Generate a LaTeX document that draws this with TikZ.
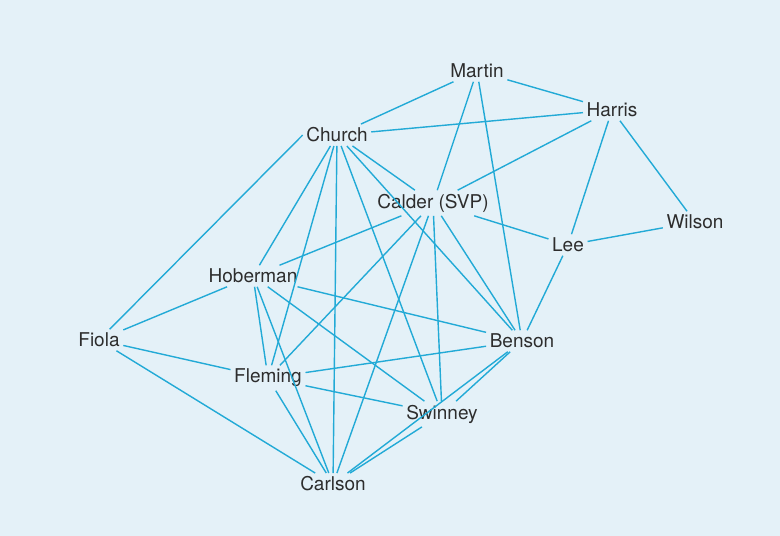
\documentclass[tikz,border=0pt]{standalone}
\usepackage{fontspec}
\setmainfont{TeX Gyre Heros}
\definecolor{bgblue}{RGB}{228,241,248}
\definecolor{linkblue}{RGB}{34,170,214}
\definecolor{txtgrey}{RGB}{45,45,45}
\begin{document}
\begin{tikzpicture}[x=1pt,y=-1pt,
  person/.style={font=\fontsize{19}{21}\selectfont, text=txtgrey, inner sep=3.5pt},
  link/.style={draw=linkblue, line width=1.4pt}]
\fill[bgblue] (0,0) rectangle (780,536);
\useasboundingbox (0,0) rectangle (780,536);
\node[person] (martin) at (477,71) {Martin};
\node[person] (harris) at (612,110) {Harris};
\node[person] (church) at (337,135) {Church};
\node[person] (calder) at (433,203) {Calder (SVP)};
\node[person] (wilson) at (695,222) {Wilson};
\node[person] (lee) at (568,245) {Lee};
\node[person] (hoberman) at (253,276) {Hoberman};
\node[person] (fiola) at (99,340) {Fiola};
\node[person] (benson) at (522,341) {Benson};
\node[person] (fleming) at (268,378) {Fleming};
\node[person] (swinney) at (442,414) {Swinney};
\node[person] (carlson) at (333,484) {Carlson};
\foreach \a/\b in {martin/church, martin/harris, martin/calder, martin/benson,
  harris/church, harris/calder, harris/lee, harris/wilson,
  church/calder, church/hoberman, church/carlson, church/fleming,
  church/swinney, church/benson,
  calder/lee, calder/hoberman, calder/fleming, calder/carlson, calder/swinney, calder/benson,
  lee/wilson, lee/benson,
  hoberman/fiola, hoberman/fleming, hoberman/swinney, hoberman/benson, hoberman/carlson,
  fiola/fleming, fiola/carlson,
  fleming/benson, fleming/swinney, fleming/carlson,
  benson/carlson, benson/swinney, swinney/carlson}
  \draw[link] (\a) -- (\b);
\draw[link] (church.west) -- (fiola);
\end{tikzpicture}
\end{document}
